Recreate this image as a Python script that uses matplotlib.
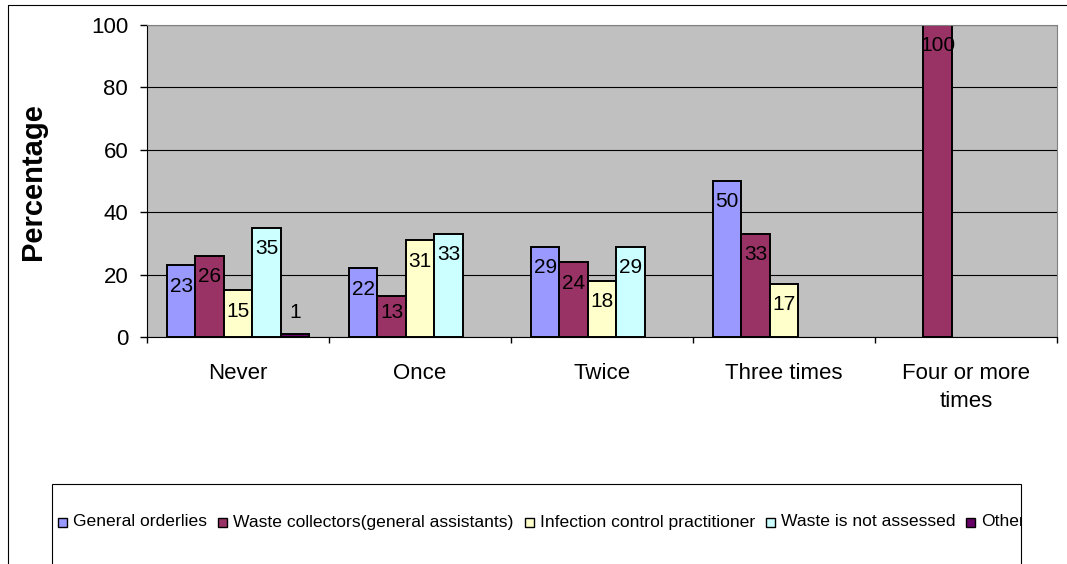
import numpy as np
import matplotlib

matplotlib.use("Agg")
import matplotlib.pyplot as plt
from matplotlib.patches import Rectangle
from matplotlib.lines import Line2D
from matplotlib.transforms import Bbox, TransformedBbox

plt.rcParams["font.family"] = ["Liberation Sans", "DejaVu Sans"]

# Data (percent of respondents per category)
categories = ["Never", "Once", "Twice", "Three times", "Four or more\ntimes"]
series_names = [
    "General orderlies",
    "Waste collectors(general assistants)",
    "Infection control practitioner",
    "Waste is not assessed",
    "Other",
]
general_orderlies = [23, 22, 29, 50, 0]
waste_collectors = [26, 13, 24, 33, 100]
infection_control = [15, 31, 18, 17, 0]
waste_not_assessed = [35, 33, 29, 0, 0]
other = [1, 0, 0, 0, 0]
series = [general_orderlies, waste_collectors, infection_control, waste_not_assessed, other]
colors = ["#9999FF", "#993366", "#FFFFCC", "#CCFFFF", "#660066"]

W, H = 1067, 564
fig = plt.figure(figsize=(W / 100, H / 100), dpi=100)
fig.patch.set_facecolor("white")

# plot area in pixel units measured from the top-left corner
ax = fig.add_axes([147 / W, 1 - 337 / H, 910 / W, 312 / H])
ax.set_facecolor("#C0C0C0")
ax.set_xlim(-0.5, 4.5)
ax.set_ylim(0, 100)
ax.set_yticks(range(0, 101, 20))
ax.grid(axis="y", color="black", linewidth=0.8)
ax.set_axisbelow(True)

x = np.arange(len(categories))
slot = 0.156
for i, (vals, c) in enumerate(zip(series, colors)):
    vals = np.array(vals)
    keep = vals > 0
    xs = x[keep] + (i - 2) * slot
    ax.bar(xs, vals[keep], slot, color=c, edgecolor="black", linewidth=1.4, zorder=2)
    for xi, v in zip(xs, vals[keep]):
        ax.text(xi, max(v - 6.7, 8), str(v), ha="center", va="center",
                fontsize=15, zorder=3)

for side in ["top", "right"]:
    ax.spines[side].set_color("#808080")
for side in ["left", "bottom"]:
    ax.spines[side].set_color("black")

ax.tick_params(axis="y", direction="out", length=5, width=1, labelsize=16, pad=8.5)
ax.set_xticks(np.arange(-0.5, 5, 1))
ax.set_xticklabels([])
ax.tick_params(axis="x", which="major", direction="out", length=4.5, width=1)
ax.set_xticks(x, minor=True)
ax.set_xticklabels(categories, minor=True, fontsize=16, linespacing=1.4)
ax.tick_params(axis="x", which="minor", length=0, pad=19)

fig.text(33 / W, 1 - 182 / H, "Percentage", rotation=90, ha="center",
         va="center", fontsize=21, fontweight="bold")

# outer chart frame
fig.add_artist(Line2D([8 / W, 8 / W, 1], [0, 1 - 5 / H, 1 - 5 / H],
                      transform=fig.transFigure, color="black", linewidth=0.8))

# legend box with items laid out in one row, clipped at the right edge
lx0, lx1, ly0 = 52, 1021, 484
fig.add_artist(Rectangle((lx0 / W, -0.05), (lx1 - lx0) / W, (1 - ly0 / H) + 0.05,
                         transform=fig.transFigure, fill=False,
                         edgecolor="black", linewidth=0.8))
clip = TransformedBbox(Bbox([[lx0 / W, 0], [lx1 / W, 1]]), fig.transFigure)
renderer = fig.canvas.get_renderer()
xpos = 58
yc = 1 - 522 / H
for name, c in zip(series_names, colors):
    fig.add_artist(Rectangle((xpos / W, yc - 5 / H), 9 / W, 9 / H,
                             transform=fig.transFigure, facecolor=c,
                             edgecolor="black", linewidth=1))
    t = fig.text((xpos + 15) / W, yc, name, fontsize=12.6, ha="left", va="center")
    t.set_clip_box(clip)
    t.set_clip_on(True)
    xpos += 15 + t.get_window_extent(renderer).width + 11

fig.savefig("out.png", dpi=100, facecolor="white")
